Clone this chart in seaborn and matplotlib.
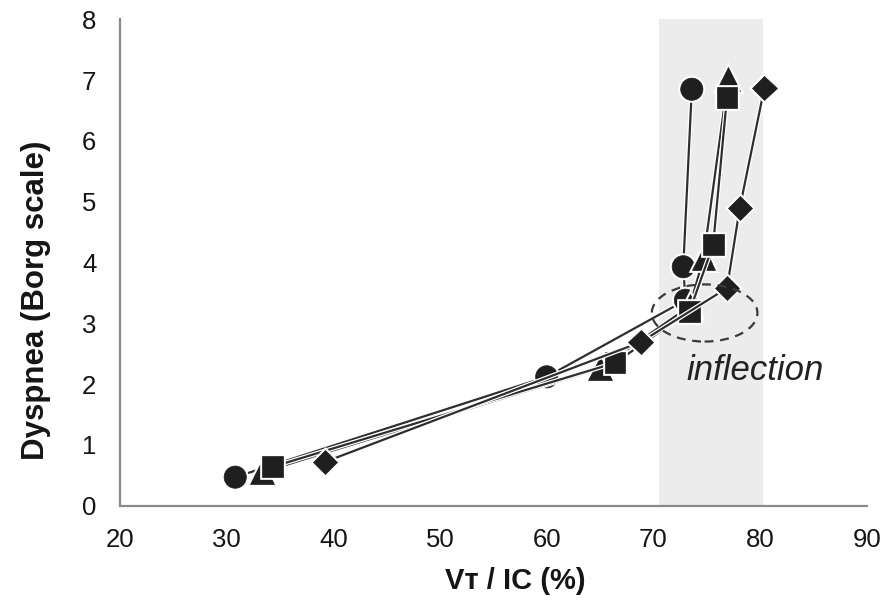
import matplotlib
matplotlib.use("Agg")
import matplotlib.pyplot as plt
import matplotlib.patheffects as pe
from matplotlib.patches import Ellipse
import numpy as np
import pandas as pd
import seaborn as sns

# Ventilatory ratio (VT/IC, %) vs. dyspnea intensity (Borg) for four groups
circle_x = [30.8, 60.0, 73.0, 72.8, 73.6]
circle_y = [0.47, 2.12, 3.38, 3.93, 6.85]

triangle_x = [33.3, 65.0, 73.4, 74.7, 77.0]
triangle_y = [0.55, 2.26, 3.28, 4.07, 7.02]

square_x = [34.3, 66.4, 73.4, 75.6, 76.9]
square_y = [0.64, 2.35, 3.20, 4.29, 6.72]

diamond_x = [39.2, 68.8, 76.9, 78.1, 80.4]
diamond_y = [0.72, 2.69, 3.58, 4.90, 6.87]

x_ticks = [20, 30, 40, 50, 60, 70, 80, 90]
y_ticks = [0, 1, 2, 3, 4, 5, 6, 7, 8]

shade_span = (70.5, 80.3)
ellipse_center = (74.8, 3.17)
ellipse_size = (9.9, 0.94)
note_text = "inflection"
note_pos = (79.5, 2.07)

sns.set_style("white")
plt.rcParams["font.family"] = ["Liberation Sans", "DejaVu Sans"]

fig = plt.figure(figsize=(8.93, 6.04), dpi=100)
ax = fig.add_axes([0.1344, 0.1627, 0.8362, 0.8053])

ax.axvspan(*shade_span, color="#ececec", zorder=0, lw=0)

series = [
    ("circle", circle_x, circle_y, "o", 16),
    ("triangle", triangle_x, triangle_y, "^", 17),
    ("square", square_x, square_y, "s", 15),
    ("diamond", diamond_x, diamond_y, "D", 12.5),
]

for name, xs, ys, mk, ms in series:
    df = pd.DataFrame({"vt_ic": xs, "borg": ys, "group": name})
    sns.lineplot(
        data=df, x="vt_ic", y="borg", sort=False, ax=ax,
        color="#2e2e2e", lw=1.6, marker=mk, markersize=ms,
        markerfacecolor="#1f1f1f", markeredgecolor="#1f1f1f",
        markeredgewidth=0.5, zorder=3,
        path_effects=[pe.Stroke(linewidth=3.4, foreground="white"), pe.Normal()],
    )

ax.add_patch(Ellipse(ellipse_center, ellipse_size[0], ellipse_size[1],
                     fill=False, edgecolor="#3a3a3a", lw=1.6,
                     linestyle=(0, (4, 3)), zorder=4))

ax.text(note_pos[0], note_pos[1], note_text, style="italic", fontsize=25,
        ha="center", va="baseline", color="#222222", zorder=5)

ax.set_xlim(20, 90)
ax.set_ylim(0, 8)
ax.set_xticks(x_ticks)
ax.set_yticks(y_ticks)

for side in ("top", "right"):
    ax.spines[side].set_visible(False)
for side in ("left", "bottom"):
    ax.spines[side].set_color("#8a8a8a")
    ax.spines[side].set_linewidth(1.6)

ax.tick_params(axis="x", direction="out", length=7, width=1.4, color="#8a8a8a",
               labelsize=18.5, labelcolor="#151515", pad=9)
ax.tick_params(axis="y", direction="out", length=5, width=1.4, color="#8a8a8a",
               labelsize=18.5, labelcolor="#151515", pad=12)

ax.set_xlabel("V\u1d1b / IC (%)", fontsize=21, fontweight="bold", color="#151515")
ax.set_ylabel("Dyspnea (Borg scale)", fontsize=22.5, fontweight="bold", color="#151515")
ax.xaxis.set_label_coords(0.529, -0.125)
ax.yaxis.set_label_coords(-0.092, 0.423)

fig.savefig("out.png", dpi=100)
